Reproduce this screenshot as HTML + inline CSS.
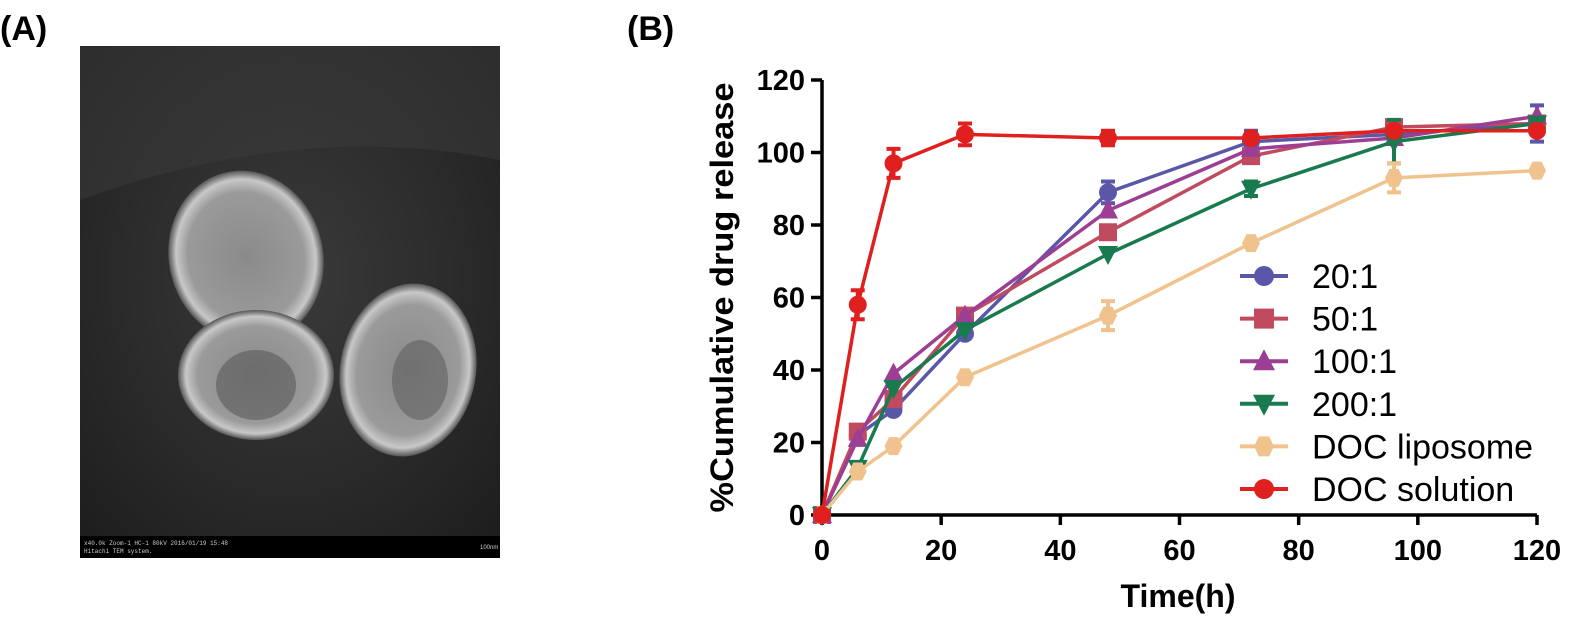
<!DOCTYPE html>
<html><head><meta charset="utf-8"><style>
body{margin:0;background:#fff;width:1575px;height:622px;overflow:hidden;font-family:"Liberation Sans",sans-serif}
</style></head><body>
<svg width="1575" height="622" viewBox="0 0 1575 622">
<text x="0" y="40" font-size="34" font-weight="bold">(A)</text>
<text x="627" y="40" font-size="34" font-weight="bold">(B)</text>
<defs>
<radialGradient id="bg" cx="0.5" cy="0.45" r="0.7"><stop offset="0" stop-color="#3a3a3a"/><stop offset="0.6" stop-color="#2a2a2a"/><stop offset="1" stop-color="#1e1e1e"/></radialGradient>
<radialGradient id="pt" cx="0.5" cy="0.5" r="0.5"><stop offset="0" stop-color="#8a8a8a"/><stop offset="0.75" stop-color="#9a9a9a"/><stop offset="0.9" stop-color="#c8c8c8"/><stop offset="1" stop-color="#555"/></radialGradient>
</defs>
<g>
<rect x="80" y="46" width="420" height="512" fill="url(#bg)"/>
<path d="M80 200 Q300 120 500 160 L500 46 L80 46Z" fill="#3c3c3c" opacity="0.5"/>
<ellipse cx="246" cy="257" rx="77" ry="87" fill="url(#pt)" transform="rotate(-15 246 257)"/>
<ellipse cx="408" cy="370" rx="68" ry="87" fill="url(#pt)" transform="rotate(10 408 370)"/>
<ellipse cx="256" cy="375" rx="78" ry="65" fill="url(#pt)"/>
<ellipse cx="256" cy="385" rx="40" ry="35" fill="#5a5a5a" opacity="0.6"/>
<ellipse cx="420" cy="380" rx="28" ry="40" fill="#606060" opacity="0.6"/>
<rect x="80" y="536" width="420" height="22" fill="#000"/>
<text x="84" y="545" font-size="6" fill="#ccc" font-family="Liberation Mono">x40.0k Zoom-1 HC-1 80kV 2016/01/19 15:48</text>
<text x="84" y="553" font-size="6" fill="#ccc" font-family="Liberation Mono">Hitachi TEM system.</text>
<text x="480" y="549" font-size="6" fill="#ccc">100nm</text>
</g>
<g id="chart"></g>
</svg>
<script>
const times=[0,6,12,24,48,72,96,120];
const s20=[0,22,29,50,89,103,105,108];
const s50=[0,23,32,55,78,99,107,108];
const s100=[0,21,39,55,84,101,104,110];
const s200=[0,13,35,51,72,90,103,108];
const sLip=[0,12,19,38,55,75,93,95];
const sSol=[0,58,97,105,104,104,106,106];
const eSol=[0,4,4,3,2,0,0,0];
const e20=[0,0,0,0,3,3,0,5];
const e200=[0,0,0,0,0,2,6,0];
const eLip=[0,0,0,0,4,0,4,0];
const xTicks=[0,20,40,60,80,100,120];
const yTicks=[0,20,40,60,80,100,120];
const names=["20:1","50:1","100:1","200:1","DOC liposome","DOC solution"];
const X=v=>822+v*(1537-822)/120, Y=v=>515-v*(515-80)/120;
const g=document.getElementById('chart'),NS="http://www.w3.org/2000/svg";
function el(t,a,p){const e=document.createElementNS(NS,t);for(const k in a)e.setAttribute(k,a[k]);(p||g).appendChild(e);return e;}
let e;
e=el('path',{d:`M${X(0)} ${Y(120)} V${Y(0)} H${X(120)}`,stroke:'#000','stroke-width':3.5,fill:'none'});

yTicks.forEach(v=>{el('line',{x1:X(0)-11,x2:X(0),y1:Y(v),y2:Y(v),stroke:'#000','stroke-width':3.5});
 e=el('text',{x:X(0)-17,y:Y(v)+10,'text-anchor':'end','font-size':29,'font-weight':'bold'});e.textContent=v;
 });
xTicks.forEach(v=>{el('line',{x1:X(v),x2:X(v),y1:Y(0),y2:Y(0)+10,stroke:'#000','stroke-width':3.5});
 e=el('text',{x:X(v),y:Y(0)+45,'text-anchor':'middle','font-size':29,'font-weight':'bold'});e.textContent=v;
 });
e=el('text',{x:1178,y:607,'text-anchor':'middle','font-size':32,'font-weight':'bold'});e.textContent='Time(h)';

e=el('text',{x:0,y:0,'text-anchor':'middle','font-size':32,'font-weight':'bold',textLength:430,lengthAdjust:'spacingAndGlyphs',transform:`translate(733 ${Y(60)}) rotate(-90)`});e.textContent='%Cumulative drug release';

const series=[[s20,'#5b57a8','circle',e20],[s50,'#c04b5f','square',null],[s100,'#9c3f94','tri',null],[s200,'#1a7a4f','tridown',e200],[sLip,'#f0c38e','hex',eLip],[sSol,'#e0201e','circle',eSol]];
function marker(shape,x,y,c,parent,r){r=r||9;let m;
 if(shape=='circle')m=el('circle',{cx:x,cy:y,r:r,fill:c},parent);
 else if(shape=='square')m=el('rect',{x:x-r,y:y-r,width:2*r,height:2*r,fill:c},parent);
 else if(shape=='tri')m=el('polygon',{points:`${x},${y-r-2} ${x-r-1},${y+r-1} ${x+r+1},${y+r-1}`,fill:c},parent);
 else if(shape=='tridown')m=el('polygon',{points:`${x},${y+r+2} ${x-r-1},${y-r+1} ${x+r+1},${y-r+1}`,fill:c},parent);
 else m=el('polygon',{points:`${x-r},${y} ${x-r/2},${y-r} ${x+r/2},${y-r} ${x+r},${y} ${x+r/2},${y+r} ${x-r/2},${y+r}`,fill:c},parent);
 return m;}
series.forEach((s,i)=>{const [d,c,sh,er]=s;
 const sg=el('g',{});
 el('polyline',{points:d.map((v,j)=>X(times[j])+','+Y(v)).join(' '),fill:'none',stroke:c,'stroke-width':3.5},sg);
 d.forEach((v,j)=>{if(er&&er[j]){const x=X(times[j]);el('path',{d:`M${x} ${Y(v+er[j])} V${Y(v-er[j])} M${x-7} ${Y(v+er[j])} H${x+7} M${x-7} ${Y(v-er[j])} H${x+7}`,stroke:c,'stroke-width':4,fill:'none'},sg);}
  const m=marker(sh,X(times[j]),Y(v),c,sg);});
 const ly=276+i*42.6;const lg=el('g',{});
 el('line',{x1:1240,x2:1288,y1:ly,y2:ly,stroke:c,'stroke-width':4},lg);marker(sh,1264,ly,c,lg,10);
 const t=el('text',{x:1312,y:ly+12,'font-size':34},lg);t.textContent=names[i];});
</script>
</body></html>
